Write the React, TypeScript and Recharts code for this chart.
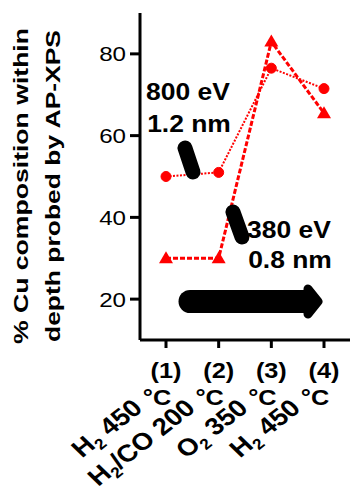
import { LineChart, Line, XAxis, YAxis } from "recharts";

// steps and treatment conditions along the x axis
const steps = ["(1)", "(2)", "(3)", "(4)"];
const conditions = ["H₂ 450", "H₂/CO 200", "O₂ 350", "H₂ 450"];
// % Cu probed at 800 eV (1.2 nm) and 380 eV (0.8 nm)
const cu800 = [50, 51, 76.5, 71.5];
const cu380 = [30, 30, 83, 65.5];
const yTicks = [20, 40, 60, 80];

const data = steps.map((s, i) => ({ step: s, e800: cu800[i], e380: cu380[i] }));

const FONT = "'Liberation Sans', Arial, sans-serif";
const SX = 1.15; // the original is a little stretched horizontally

function YTick({ x, y, payload }: any) {
  return (
    <g transform={`translate(${x - 2},${y})`}>
      <text transform={`scale(${SX},1)`} textAnchor="end" dy="0.36em" fontSize={21} fill="#000" fontFamily={FONT}>
        {payload.value}
      </text>
    </g>
  );
}

function XTick({ x, payload }: any) {
  const idx = steps.indexOf(payload.value);
  const [a, b] = (conditions[idx] ?? "").split("₂");
  return (
    <g fontWeight="bold" fill="#000" fontFamily={FONT}>
      <g transform={`translate(${x},378)`}>
        <text transform={`scale(${SX},1)`} textAnchor="middle" fontSize={22}>{payload.value}</text>
      </g>
      <g transform={`translate(${x - 9},405)`}>
        <text transform={`scale(${SX},1)`} textAnchor="middle" fontSize={22}>°C</text>
      </g>
      <g transform={`translate(${x - 22},410) scale(${SX},1) rotate(-42)`}>
        <text textAnchor="end" fontSize={24}>
          {a}
          <tspan fontSize={15} dy={5}>2</tspan>
          <tspan dy={-5}>{b}</tspan>
        </text>
      </g>
    </g>
  );
}

function Triangle(p: any) {
  const { cx, cy, index } = p;
  if (cx == null || cy == null) return <g key={index} />;
  return <path key={index} d={`M${cx},${cy - 7} L${cx + 7},${cy + 5} L${cx - 7},${cy + 5} Z`} fill="red" />;
}

export default function App() {
  return (
    <div style={{ position: "absolute", left: 0, top: 0, width: 350, height: 491, background: "#fff" }}>
      <LineChart width={350} height={491} data={data} margin={{ top: 13, right: 0, bottom: 0, left: 0 }}>
        <XAxis
          dataKey="step"
          height={151}
          interval={0}
          tickSize={8}
          padding={{ left: 26, right: 26 }}
          axisLine={{ stroke: "#000", strokeWidth: 3 }}
          tickLine={{ stroke: "#000", strokeWidth: 3 }}
          tick={<XTick />}
        />
        <YAxis
          width={140}
          domain={[10, 90]}
          ticks={yTicks}
          tickSize={10}
          axisLine={{ stroke: "#000", strokeWidth: 3 }}
          tickLine={{ stroke: "#000", strokeWidth: 3 }}
          tick={<YTick />}
        />
        <Line
          dataKey="e800"
          type="linear"
          stroke="red"
          strokeWidth={2}
          strokeDasharray="2 1.5"
          dot={{ r: 5, fill: "red", stroke: "red", strokeWidth: 1, strokeDasharray: "" }}
          isAnimationActive={false}
        />
        <Line
          dataKey="e380"
          type="linear"
          stroke="red"
          strokeWidth={3}
          strokeDasharray="5 2"
          dot={(p: any) => <Triangle key={p.index} {...p} />}
          isAnimationActive={false}
        />
      </LineChart>

      <svg width={350} height={491} style={{ position: "absolute", left: 0, top: 0, pointerEvents: "none" }} fontFamily={FONT}>
        {/* axis title */}
        <g fontWeight="bold" fontSize={21} fill="#000">
          <text transform="translate(28,186) rotate(-90)" textAnchor="middle" textLength={316} lengthAdjust="spacingAndGlyphs">
            % Cu composition within
          </text>
          <text transform="translate(60,186) rotate(-90)" textAnchor="middle" textLength={312} lengthAdjust="spacingAndGlyphs">
            depth probed by AP-XPS
          </text>
        </g>

        {/* probe depth notes */}
        <g fontWeight="bold" fontSize={23} fill="#000">
          <g transform="translate(188,100)"><text transform={`scale(${SX},1)`} textAnchor="middle">800 eV</text></g>
          <g transform="translate(189,132)"><text transform={`scale(${SX},1)`} textAnchor="middle">1.2 nm</text></g>
          <g transform="translate(289,238)"><text transform={`scale(${SX},1)`} textAnchor="middle">380 eV</text></g>
          <g transform="translate(290,268)"><text transform={`scale(${SX},1)`} textAnchor="middle">0.8 nm</text></g>
        </g>
        <line x1={185} y1={148} x2={193} y2={172} stroke="#000" strokeWidth={15} strokeLinecap="round" />
        <line x1={233} y1={212} x2={242} y2={237} stroke="#000" strokeWidth={15} strokeLinecap="round" />

        {/* sequence arrow */}
        <line x1={190} y1={301.5} x2={306} y2={301.5} stroke="#000" strokeWidth={23} strokeLinecap="round" />
        <polygon points="308,289 318,301.5 308,314" fill="#000" stroke="#000" strokeWidth={9} strokeLinejoin="round" />
      </svg>
    </div>
  );
}
